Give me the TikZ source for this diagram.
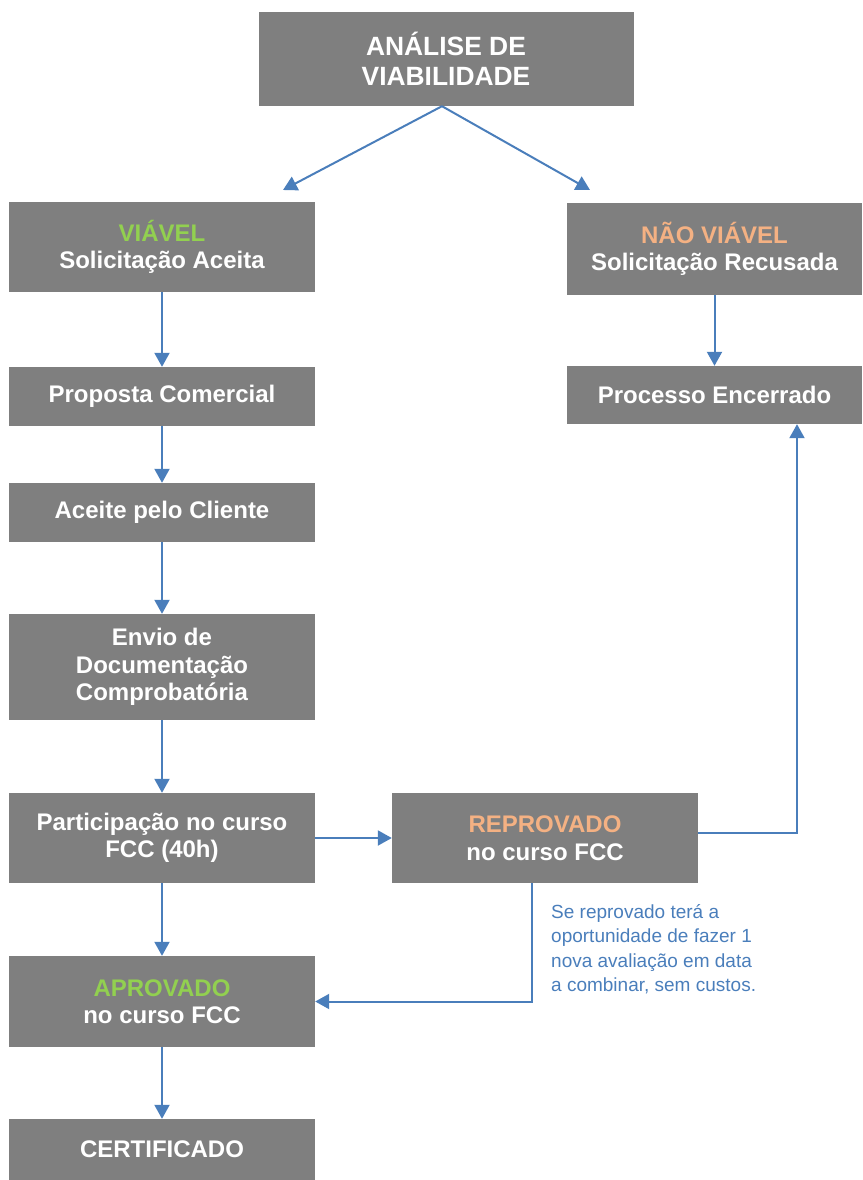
\documentclass[tikz,border=0pt]{standalone}
\usepackage{fontspec}
\setmainfont{Liberation Sans}
\usetikzlibrary{arrows.meta,positioning}
\definecolor{boxgray}{HTML}{7F7F7F}
\definecolor{okgreen}{HTML}{92D050}
\definecolor{nogo}{HTML}{F4B183}
\definecolor{linkblue}{HTML}{4A7EBB}

\begin{document}
\begin{tikzpicture}[x = 1pt, y = -1pt,
    stage/.style = {fill = boxgray, text = white, font = \bfseries\fontsize{24}{27.5}\selectfont,
      align = center, inner sep = 0pt, minimum width = 306pt},
    link/.style = {draw = linkblue, line width = 2pt, -{Triangle[width = 15pt, length = 14pt]}}]
      \useasboundingbox (0, 0) rectangle (862, 1180);
      \node [stage, minimum width = 375pt, minimum height = 94pt, font = \bfseries\fontsize{26.4}{30}\selectfont] (analise) at (446, 59) {ANÁLISE DE\\VIABILIDADE};
      \node [stage, minimum height = 90pt] (viavel) at (162, 247) {\textcolor{okgreen}{VIÁVEL}\\Solicitação Aceita};
      \node [stage, minimum width = 295pt, minimum height = 92pt] (naoviavel) at (714.5, 249) {\textcolor{nogo}{NÃO VIÁVEL}\\Solicitação Recusada};
      \node [stage, minimum height = 59pt] (proposta) at (162, 396.5) {Proposta Comercial};
      \node [stage, minimum width = 295pt, minimum height = 58pt] (encerrado) at (714.5, 395) {Processo Encerrado};
      \node [stage, minimum height = 59pt] (aceite) at (162, 512.5) {Aceite pelo Cliente};
      \node [stage, minimum height = 106pt] (envio) at (162, 667) {Envio de\\Documentação\\Comprobatória};
      \node [stage, minimum height = 90pt] (curso) at (162, 838) {Participação no curso\\FCC (40h)};
      \node [stage, minimum height = 90pt] (reprovado) at (545, 838) {\textcolor{nogo}{REPROVADO}\\no curso FCC};
      \node [stage, minimum height = 91pt] (aprovado) at (162, 1001.5) {\textcolor{okgreen}{APROVADO}\\no curso FCC};
      \node [stage, minimum height = 61pt] (certificado) at (162, 1149.5) {CERTIFICADO};
      \node [anchor = north west, align = left, inner sep = 0pt, text = linkblue,
        font = \fontsize{19}{24.5}\selectfont] (nota) at (551, 904) {Se reprovado terá a\\oportunidade de fazer 1\\nova avaliação em data\\a combinar, sem custos.};
      \coordinate (splitL) at (283, 190);
      \coordinate (splitR) at (590, 190);
      \draw [link] ([xshift = -4pt]analise.south) -- (splitL);
      \draw [link] ([xshift = -4pt]analise.south) -- (splitR);
      \draw [link] (viavel) -- (proposta);
      \draw [link] (proposta) -- (aceite);
      \draw [link] (aceite) -- (envio);
      \draw [link] (envio) -- (curso);
      \draw [link] (curso) -- (aprovado);
      \draw [link] (aprovado) -- (certificado);
      \draw [link] (naoviavel) -- (encerrado);
      \draw [link] (curso) -- (reprovado);
      \draw [link] ([yshift = 5pt]reprovado.east) -| ([xshift = 82.5pt]encerrado.south);
      \draw [link] ([xshift = -13pt]reprovado.south) |- (aprovado.east);
    \end{tikzpicture}
\end{document}
